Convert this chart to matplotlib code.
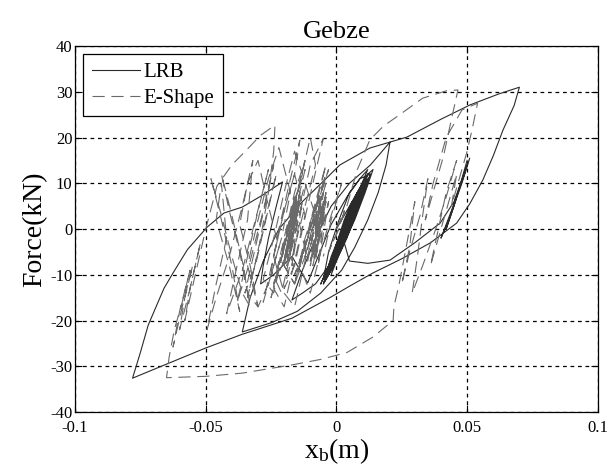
import matplotlib
matplotlib.use("Agg")
import matplotlib.pyplot as plt

# ---------------- data ----------------
title = "Gebze"
xlabel = "x$_\\mathregular{b}$(m)"
ylabel = "Force(kN)"
legend_labels = ["LRB", "E-Shape"]
x_ticks = [-0.1, -0.05, 0, 0.05, 0.1]
x_tick_labels = ["-0.1", "-0.05", "0", "0.05", "0.1"]
y_ticks = [-40, -30, -20, -10, 0, 10, 20, 30, 40]

# LRB (solid) hysteresis path: (displacement m, force kN)
lrb_path = [
    (0.000, 0), (0.004, 4), (0.008, 8), (0.011, 11), (0.012, 12), (0.010, 8),
    (0.006, 2), (0.002, -4), (-0.002, -9), (-0.004, -11), (-0.002, -7),
    (0.002, -1), (0.006, 5), (0.009, 9), (0.011, 10), (0.008, 5), (0.004, -1),
    (0.000, -6), (-0.003, -10), (-0.005, -12), (-0.002, -6), (0.003, 1),
    (0.007, 7), (0.012, 12), (0.014, 13), (0.011, 8), (0.007, 2), (0.003, -3),
    (-0.001, -8), (-0.003, -10), (0.000, -4), (0.004, 3), (0.008, 8),
    (0.010, 10), (0.007, 5), (0.003, -2), (-0.001, -7), (-0.004, -11),
    (-0.001, -5), (0.003, 2), (0.006, 6), (0.009, 8), (0.006, 3), (0.002, -3),
    (-0.002, -8), (-0.005, -11), (-0.003, -5), (0.001, 2), (0.005, 8),
    (0.009, 11), (0.012, 13), (0.009, 9), (0.005, 3), (0.001, -3),
    (-0.003, -8), (-0.006, -12), (-0.003, -8), (0.001, -2), (0.005, 4),
    (0.008, 7), (0.011, 9), (0.008, 4), (0.004, -2), (0.000, -7),
    (-0.002, -10), (0.001, -4), (0.005, 2), (0.009, 6), (0.012, 10),
    (0.009, 7), (0.005, 1), (0.001, -5),
    (-0.008, -12), (-0.013, -14), (-0.017, -15.5), (-0.013, -9), (-0.008, -2),
    (-0.002, 5), (0.005, 10), (0.013, 14), (0.0205, 19),
    (0.019, 14), (0.016, 8), (0.012, 2), (0.007, -4), (0.002, -9),
    (-0.006, -14), (-0.015, -18), (-0.025, -20.5), (-0.036, -22.5),
    (-0.033, -15), (-0.028, -7), (-0.022, 0), (-0.013, 6), (-0.004, 11),
    (0.0013, 14), (0.0128, 17.7), (0.027, 20.1), (0.040, 24), (0.051, 27.1),
    (0.062, 29.5), (0.070, 31),
    (0.068, 27), (0.0637, 21.6), (0.060, 16), (0.056, 10.7), (0.051, 5.5),
    (0.046, 1.3), (0.036, -3), (0.025, -6.5), (0.014, -9.6), (0.005, -12.5),
    (-0.0025, -15), (-0.017, -19.5), (-0.036, -23), (-0.050, -26),
    (-0.064, -29.3), (-0.078, -32.6),
    (-0.075, -27), (-0.072, -21), (-0.066, -13), (-0.0625, -9.6),
    (-0.057, -4.5), (-0.0495, 0.4), (-0.043, 3.5), (-0.036, 4.8),
    (-0.028, 7.5), (-0.0206, 10.3), (-0.023, 5), (-0.026, -2), (-0.028, -8),
    (-0.029, -12), (-0.024, -10), (-0.017, -6), (-0.011, -11.8),
    (-0.007, -6), (-0.002, 1), (0.004, 7), (0.009, 11), (0.013, 12),
    (0.010, 7), (0.005, 1), (0.001, -5), (-0.003, -10), (-0.005, -12),
    (-0.001, -6), (0.004, 1), (0.008, 7), (0.012, 12), (0.013, 12),
    (0.009, 6), (0.004, -1), (0.000, -6), (-0.003, -9), (0.001, -3),
    (0.005, 3), (0.010, 9), (0.012, 11), (0.008, 5), (0.003, -2),
    (-0.001, -6), (-0.004, -10), (0.000, -5), (0.004, 1), (0.008, 6),
    (0.011, 9), (0.007, 3), (0.003, -3),
    (0.005, -7), (0.012, -7.5), (0.0205, -6.8), (0.030, -3), (0.0397, 1.3),
    (0.045, 6), (0.051, 15.5), (0.048, 10), (0.043, 2), (0.040, -2),
    (0.044, 4), (0.049, 12), (0.050, 14), (0.046, 7), (0.042, 0),
    (0.045, 5), (0.050, 15),
]

# E-Shape (dashed) hysteresis path: (displacement m, force kN)
es_path = [
    (0.000, 0), (0.003, 4), (0.001, 0), (-0.003, -5), (0.000, -1), (0.004, 5),
    (0.008, 13), (0.0128, 19.5), (0.018, 22.5), (0.023, 24.5), (0.033, 28.6),
    (0.042, 30.2), (0.0465, 30.4),
    (0.044, 24), (0.041, 16), (0.037, 8), (0.034, 2), (0.037, 10),
    (0.042, 20), (0.048, 26), (0.054, 27.5), (0.052, 22), (0.050, 17),
    (0.047, 11), (0.044, 5), (0.046, 12), (0.043, 6), (0.039, -2),
    (0.036, -8), (0.039, 0), (0.042, 8), (0.046, 15), (0.042, 7),
    (0.038, 0), (0.033, -8), (0.029, -14), (0.031, -6), (0.033, 3),
    (0.035, 11), (0.032, 3), (0.028, -5), (0.025, -12), (0.028, -4),
    (0.030, 6), (0.027, -3), (0.024, -12), (0.022, -17), (0.0217, -20),
    (0.014, -23.6), (0.004, -27), (-0.006, -28.5), (-0.017, -29.7),
    (-0.036, -31.5), (-0.050, -32.2), (-0.065, -32.5),
    (-0.064, -28), (-0.062, -22), (-0.059, -16), (-0.056, -9), (-0.060, -18),
    (-0.0625, -25.8), (-0.059, -17), (-0.055, -8), (-0.058, -15),
    (-0.060, -22), (-0.056, -13), (-0.052, -3), (-0.056, -13), (-0.058, -20),
    (-0.054, -10), (-0.050, 0), (-0.0457, 9.4), (-0.040, 14), (-0.034, 17.5),
    (-0.029, 20.5), (-0.0235, 22.7),
    (-0.024, 17), (-0.026, 8), (-0.029, -2), (-0.032, -10), (-0.034, -15),
    (-0.030, -5), (-0.026, 5), (-0.023, 12), (-0.027, 2), (-0.031, -8),
    (-0.035, -14), (-0.031, -4), (-0.027, 6), (-0.024, 14), (-0.028, 4),
    (-0.033, -7), (-0.038, -16), (-0.034, -6), (-0.030, 4), (-0.026, 13),
    (-0.031, 2), (-0.036, -9), (-0.042, -18.5), (-0.038, -8), (-0.034, 2),
    (-0.032, 15), (-0.036, 5), (-0.041, -6), (-0.046, -15), (-0.0495, -22),
    (-0.046, -12), (-0.042, -2), (-0.044, 10), (-0.046, 2), (-0.041, -8),
    (-0.037, -18), (-0.040, -8), (-0.044, 2), (-0.048, 11), (-0.044, 3),
    (-0.040, -6), (-0.036, -14), (-0.033, -17), (-0.036, -7), (-0.040, 3),
    (-0.044, 12), (-0.041, 4), (-0.037, -5), (-0.034, -14), (-0.030, -17),
    (-0.033, -8), (-0.037, 1), (-0.034, 10), (-0.030, 15), (-0.026, 5),
    (-0.022, -4), (-0.026, -12), (-0.030, -17), (-0.034, -8), (-0.030, 2),
    (-0.026, 11), (-0.022, 17.8), (-0.0176, 8), (-0.021, -2), (-0.025, -10),
    (-0.028, -16), (-0.024, -6), (-0.020, 4), (-0.016, 12), (-0.014, 19.4),
    (-0.018, 10), (-0.022, 0), (-0.025, -9), (-0.021, -14), (-0.017, -4),
    (-0.013, 6), (-0.010, 14), (-0.005, 19.8), (-0.009, 10), (-0.013, 0),
    (-0.016, -8), (-0.020, -13), (-0.016, -4), (-0.012, 5), (-0.008, 14),
    (-0.010, 20), (-0.014, 10), (-0.018, 0), (-0.022, -8), (-0.025, -15),
    (-0.021, -5), (-0.017, 4), (-0.013, 12), (-0.016, 17), (-0.020, 8),
    (-0.024, -2), (-0.028, -11), (-0.024, -14), (-0.020, -4), (-0.016, 6),
    (-0.012, 13), (-0.016, 3), (-0.020, -7), (-0.024, -12), (-0.020, -2),
    (-0.016, 8), (-0.012, 15), (-0.016, 6), (-0.020, -4), (-0.024, -13),
    (-0.020, -17), (-0.016, -7), (-0.012, 3), (-0.016, 12), (-0.020, 4),
    (-0.024, -6), (-0.020, -14), (-0.016, -17), (-0.012, -7), (-0.008, 3),
    (-0.012, 10), (-0.016, 1), (-0.020, -8), (-0.016, -12), (-0.012, -3),
    (-0.008, 6), (-0.004, 14), (-0.008, 5), (-0.012, -4), (-0.016, -12),
    # dense grey block around x = -0.022 .. -0.013
    (-0.021, -7), (-0.016, 7), (-0.019, -6), (-0.014, 8), (-0.018, -7),
    (-0.015, 5), (-0.020, -8), (-0.015, 6), (-0.019, -5), (-0.014, 7),
    (-0.017, -8), (-0.013, 6), (-0.018, -6), (-0.014, 8), (-0.020, -7),
    (-0.016, 5), (-0.021, -6), (-0.016, 7), (-0.019, -8), (-0.014, 6),
    (-0.018, -5), (-0.015, 8), (-0.020, -7), (-0.016, 6),
    # dense grey block around x = -0.011 .. -0.003
    (-0.011, -7), (-0.006, 7), (-0.009, -6), (-0.004, 8), (-0.008, -7),
    (-0.005, 6), (-0.010, -8), (-0.005, 5), (-0.009, -5), (-0.004, 7),
    (-0.007, -8), (-0.003, 6), (-0.008, -6), (-0.004, 8), (-0.010, -7),
    (-0.006, 5), (-0.011, -6), (-0.006, 7), (-0.009, -8), (-0.004, 6),
    (-0.008, -5), (-0.005, 8), (-0.010, -6),
    (-0.012, -6), (-0.008, 3), (-0.004, 10), (-0.008, 2), (-0.012, -6),
    (-0.016, -12), (-0.012, -2), (-0.008, 5), (-0.004, 12), (-0.008, 4),
    (-0.012, -4), (-0.016, -10), (-0.011, -2), (-0.007, 6), (-0.003, 13),
    (-0.007, 6), (-0.011, -2), (-0.014, -8), (-0.010, -14), (-0.006, -5),
    (-0.002, 3), (0.002, 10), (-0.002, 2), (-0.005, -6),
]

lrb_x = [p[0] for p in lrb_path]
lrb_y = [p[1] for p in lrb_path]
es_x = [p[0] for p in es_path]
es_y = [p[1] for p in es_path]

# ---------------- figure ----------------
plt.rcParams['font.family'] = ['Liberation Serif', 'DejaVu Serif']
plt.rcParams['mathtext.fontset'] = 'custom'
plt.rcParams['mathtext.rm'] = 'Liberation Serif'
plt.rcParams['mathtext.it'] = 'Liberation Serif'
plt.rcParams['axes.unicode_minus'] = False

fig = plt.figure(figsize=(6.1, 4.75), dpi=100)
ax = fig.add_axes([0.123, 0.1326, 0.857, 0.7705])

ax.plot(lrb_x, lrb_y, color='#2a2a2a', lw=0.8, ls='-', label=legend_labels[0])
ax.plot(es_x, es_y, color='#6a6a6a', lw=0.8, ls=(0, (11, 6)), label=legend_labels[1])

ax.set_xlim(-0.1, 0.1)
ax.set_ylim(-40, 40)
ax.set_xticks(x_ticks)
ax.set_xticklabels(x_tick_labels)
ax.set_yticks(y_ticks)
ax.tick_params(direction='in', top=True, right=True, labelsize=12, length=5,
               width=0.8)
ax.tick_params(axis='x', pad=6)
ax.tick_params(axis='y', pad=2)
ax.grid(True, color='black', ls=(0, (3, 3)), lw=0.9)
for s in ax.spines.values():
    s.set_linewidth(0.9)

ax.set_title(title, fontsize=19, pad=6)
ax.set_xlabel(xlabel, fontsize=20, labelpad=0)
ax.set_ylabel(ylabel, fontsize=20, labelpad=2)

leg = ax.legend(loc='upper left', fontsize=15, fancybox=False, framealpha=1,
                edgecolor='black', handlelength=2.3, borderaxespad=0.4,
                labelspacing=0.3, handletextpad=0.2, borderpad=0.4)
leg.get_frame().set_linewidth(0.9)

fig.savefig("out.png", dpi=100)
